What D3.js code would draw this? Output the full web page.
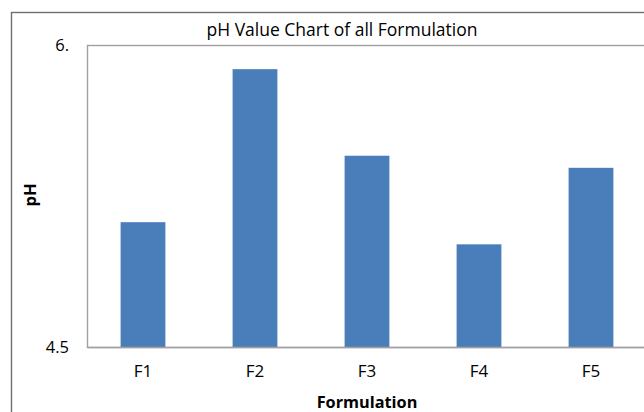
<!DOCTYPE html>
<html>
<head>
<meta charset="utf-8">
<script src="https://cdn.jsdelivr.net/npm/d3@7/dist/d3.min.js"></script>
<style>
html,body{margin:0;padding:0;background:#fff;overflow:hidden;}
svg{display:block;}
text{font-family:"Open Sans","Noto Sans",sans-serif;fill:#000;}
</style>
</head>
<body>
<svg id="c" width="644" height="412"></svg>
<script>
const categories = ["F1","F2","F3","F4","F5"];
const phValues = [5.12, 5.88, 5.45, 5.01, 5.39];
const yTickValues = [4.5, 6];
const yTickLabels = ["4.5", "6."];
const titleText = "pH Value Chart of all Formulation";
const xTitle = "Formulation";
const yTitle = "pH";

const svg = d3.select("#c");
const plot = {left: 87, top: 45, right: 647, bottom: 347};

// outer chart frame (cropped at right/bottom)
svg.append("rect").attr("x", 11.5).attr("y", 12.5).attr("width", 700).attr("height", 500)
  .attr("fill", "none").attr("stroke", "#6f6f6f").attr("stroke-width", 1.4);

const x = d3.scaleBand().domain(categories).range([plot.left, plot.right])
  .paddingInner(0.6).paddingOuter(0.3);
const y = d3.scaleLinear().domain([4.5, 6]).range([plot.bottom, plot.top]);

// plot area border
svg.append("rect").attr("x", plot.left + 0.5).attr("y", plot.top + 0.5)
  .attr("width", plot.right - plot.left).attr("height", plot.bottom - plot.top)
  .attr("fill", "none").attr("stroke", "#a0a0a0").attr("stroke-width", 1.4);

// bars
svg.append("g").selectAll("rect").data(categories).join("rect")
  .attr("x", d => x(d))
  .attr("width", x.bandwidth())
  .attr("y", (d, i) => y(phValues[i]))
  .attr("height", (d, i) => y(4.5) - y(phValues[i]))
  .attr("fill", "#4a7ebb");

// y axis
const yAxis = d3.axisLeft(y).tickValues(yTickValues)
  .tickFormat((d, i) => yTickLabels[i]).tickSize(0).tickPadding(18);
const gy = svg.append("g").attr("transform", `translate(${plot.left},0)`).call(yAxis);
gy.select(".domain").remove();
gy.selectAll("text").attr("font-size", 16.5).style("font-family", "'Open Sans',sans-serif");

// x axis
const xAxis = d3.axisBottom(x).tickSize(0).tickPadding(18);
const gx = svg.append("g").attr("transform", `translate(0,${plot.bottom})`).call(xAxis);
gx.select(".domain").attr("stroke", "#a0a0a0").attr("stroke-width", 1.4);
gx.selectAll("text").attr("font-size", 17).style("font-family", "'Open Sans',sans-serif");

// title
svg.append("text").attr("x", 342).attr("y", 29).attr("text-anchor", "middle")
  .attr("dominant-baseline", "central").attr("font-size", 17.5).text(titleText);

// axis titles
svg.append("text").attr("x", 367).attr("y", 402).attr("text-anchor", "middle")
  .attr("dominant-baseline", "central").attr("font-size", 16.3).attr("font-weight", "bold").text(xTitle);
svg.append("text").attr("transform", "translate(29,195) rotate(-90)").attr("text-anchor", "middle")
  .attr("dominant-baseline", "central").attr("font-size", 16.5).attr("font-weight", "bold").text(yTitle);
</script>
</body>
</html>
